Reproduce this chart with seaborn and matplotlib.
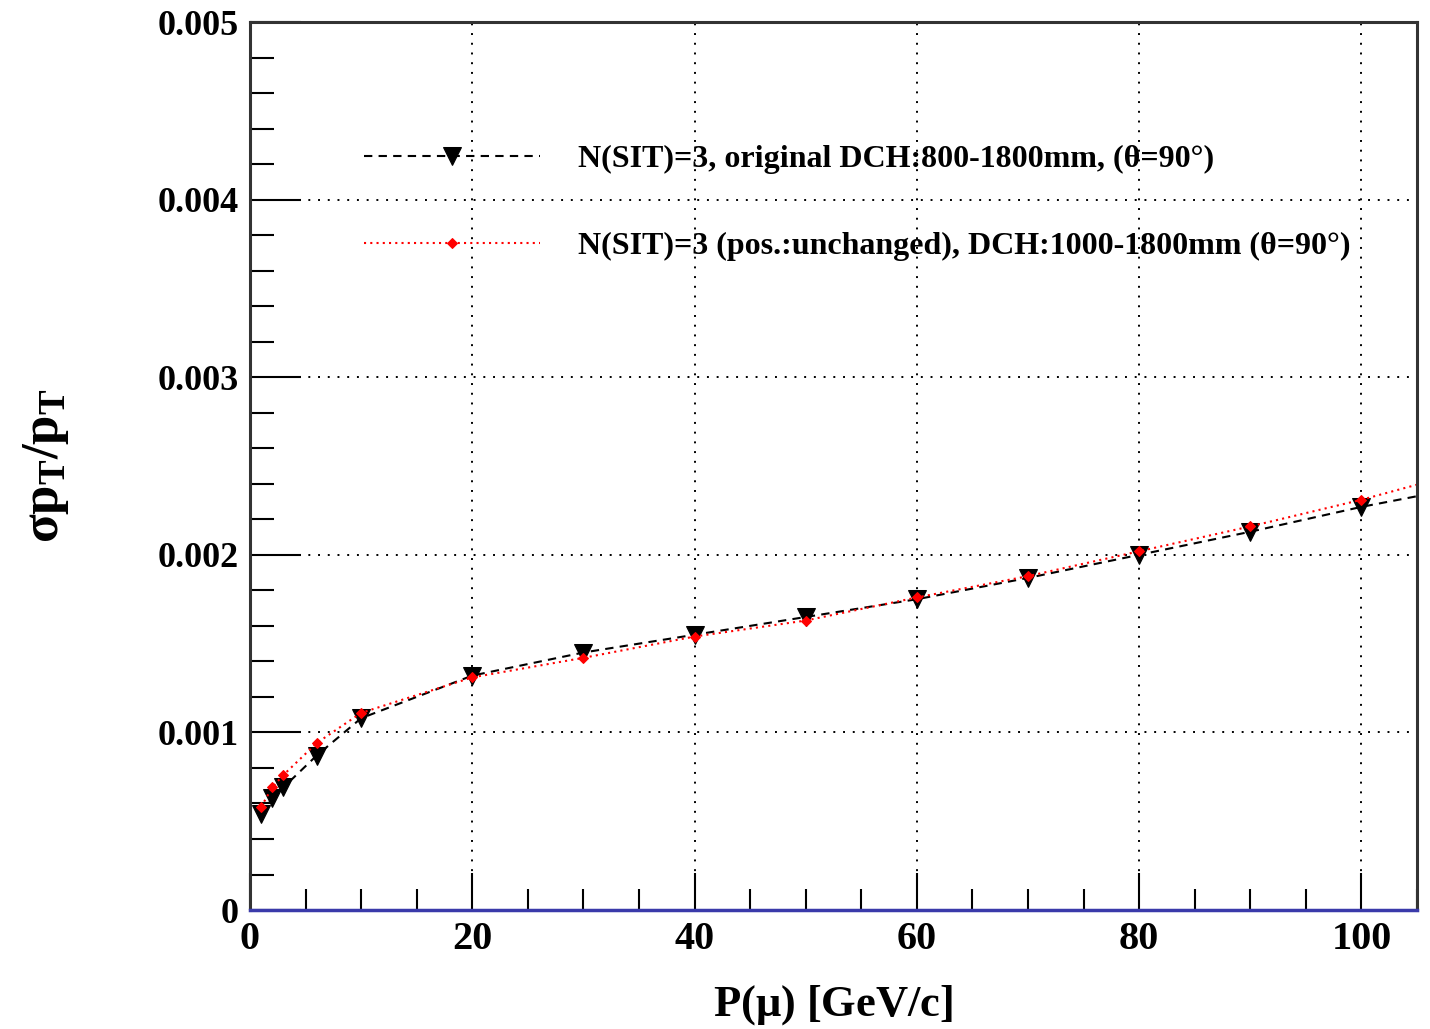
import numpy as np
import pandas as pd
import matplotlib
matplotlib.use("Agg")
import matplotlib.pyplot as plt
import seaborn as sns
from matplotlib.ticker import MultipleLocator, FuncFormatter

# momentum points [GeV/c]; last one lies past the visible axis (curve runs out to the frame)
momentum = [1, 2, 3, 6, 10, 20, 30, 40, 50, 60, 70, 80, 90, 100, 110]

res_original = [0.00054, 0.00063, 0.00069, 0.00087, 0.00108, 0.00132, 0.00145, 0.00155,
                0.00165, 0.00175, 0.00187, 0.00200, 0.00213, 0.00227, 0.00239]
res_dch1000 = [0.00058, 0.00069, 0.00076, 0.00094, 0.00111, 0.00131, 0.00142, 0.00154,
               0.00163, 0.00176, 0.00188, 0.00202, 0.00216, 0.00231, 0.00248]

label_original = "N(SIT)=3, original DCH:800-1800mm, (\u03b8=90\u00b0)"
label_dch1000 = "N(SIT)=3 (pos.:unchanged), DCH:1000-1800mm (\u03b8=90\u00b0)"

df = pd.DataFrame({"P": momentum + momentum,
                   "res": res_original + res_dch1000,
                   "config": [label_original] * len(momentum) + [label_dch1000] * len(momentum)})

sns.set_theme(style="white")
plt.rcParams["font.family"] = ["Liberation Serif", "DejaVu Serif"]
plt.rcParams["font.weight"] = "bold"
plt.rcParams["text.color"] = "black"
plt.rcParams["axes.labelcolor"] = "black"
plt.rcParams["mathtext.fontset"] = "custom"
plt.rcParams["mathtext.rm"] = "Liberation Serif:bold"
plt.rcParams["mathtext.it"] = "Liberation Serif:bold"
plt.rcParams["mathtext.bf"] = "Liberation Serif:bold"

fig = plt.figure(figsize=(14.3, 10.29), dpi=100)
ax = fig.add_axes([0.1748, 0.1156, 0.8161, 0.863])

sns.lineplot(data=df[df.config == label_original], x="P", y="res", ax=ax,
             color="black", linestyle=(0, (4, 3)), linewidth=1.5,
             marker="v", markersize=13, markeredgecolor="black", label=label_original)
sns.lineplot(data=df[df.config == label_dch1000], x="P", y="res", ax=ax,
             color="red", linestyle=(0, (1, 2)), linewidth=1.5,
             marker="D", markersize=5, markeredgecolor="red", label=label_dch1000)

ax.set_xlim(0, 105)
ax.set_ylim(0, 0.005)

ax.xaxis.set_major_locator(MultipleLocator(20))
ax.xaxis.set_minor_locator(MultipleLocator(5))
ax.yaxis.set_major_locator(MultipleLocator(0.001))
ax.yaxis.set_minor_locator(MultipleLocator(0.0002))
ax.yaxis.set_major_formatter(FuncFormatter(lambda v, p: "0" if abs(v) < 1e-9 else "%.3f" % v))

ax.tick_params(axis="x", which="major", direction="in", length=27, width=1.5,
               labelsize=29, pad=8, colors="black")
ax.tick_params(axis="x", which="minor", direction="in", length=15, width=1.5, colors="black")
ax.tick_params(axis="y", which="major", direction="in", length=37, width=1.5,
               labelsize=26, pad=8, colors="black")
ax.tick_params(axis="y", which="minor", direction="in", length=17, width=1.5, colors="black")
ax.tick_params(bottom=True, left=True, top=False, right=False, which="both")

ax.grid(True, which="major", color="black", linestyle=(0, (1, 4)), linewidth=1.4)

for s in ["left", "right", "top"]:
    ax.spines[s].set_color("#333333")
    ax.spines[s].set_linewidth(2.2)
ax.spines["bottom"].set_color("#3a3aaa")
ax.spines["bottom"].set_linewidth(2.5)

ax.set_xlabel(r"P($\mu$) [GeV/c]", fontsize=32, fontweight="bold", labelpad=18)
ax.set_ylabel(r"$\sigma\mathrm{p}_\mathrm{T}/\mathrm{p}_\mathrm{T}$", fontsize=38, labelpad=62)

leg = ax.legend(loc="upper left", bbox_to_anchor=(0.098, 0.862), frameon=False,
                fontsize=23, handlelength=5.5, handletextpad=1.2, labelspacing=1.8,
                borderpad=0, borderaxespad=0, numpoints=1)
for t in leg.get_texts():
    t.set_fontweight("bold")
    t.set_color("black")

fig.savefig("out.png", dpi=100)
